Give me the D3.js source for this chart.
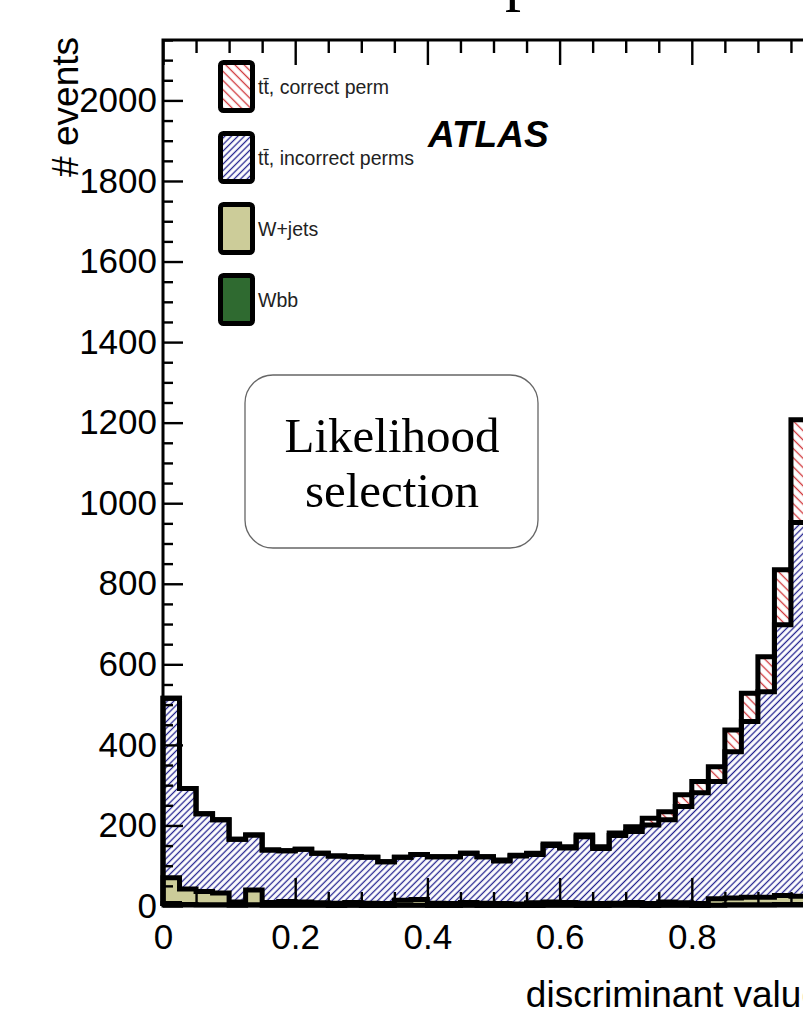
<!DOCTYPE html>
<html>
<head>
<meta charset="utf-8">
<script src="https://cdn.jsdelivr.net/npm/d3@7"></script>
<style>
  body { margin: 0; background: #fff; }
  svg { display: block; }
</style>
</head>
<body>
<script>
// 0.025 wide bins of the discriminant, only the ones visible in the picture
var binWidth = 0.025;
var ttCorrect   = [0, 0, 0, 0, 0, 0, 0, 0, 0, 0, 0, 0, 0, 0, 0, 0, 0, 0, 0, 0, 2, 2, 3, 4, 3, 4, 4, 6, 12, 17, 20, 29, 28, 37, 54, 70, 87, 137, 255];
var ttIncorrect = [446, 250, 193, 182, 156, 136, 130, 126, 131, 123, 117, 113, 114, 104, 107, 112, 115, 116, 122, 115, 106, 119, 120, 140, 135, 165, 137, 168, 176, 195, 204, 239, 275, 291, 363, 436, 510, 672, 928];
var wJets       = [64, 38, 33, 29, 8, 37, 7, 9, 8, 6, 6, 7, 6, 5, 12, 14, 6, 5, 7, 6, 5, 4, 7, 8, 7, 6, 5, 5, 7, 5, 8, 6, 5, 16, 17, 19, 19, 22, 20];
var wbb         = [6, 4, 3, 3, 2, 3, 2, 2, 2, 2, 1, 2, 1, 1, 2, 2, 1, 1, 2, 1, 1, 1, 1, 2, 2, 1, 1, 2, 2, 1, 2, 2, 1, 2, 3, 3, 3, 4, 4];

var legendLabels = ["t\u0074\u0304, correct perm", "t\u0074\u0304, incorrect perms", "W+jets", "Wbb"];
var yMajorTicks = [0, 200, 400, 600, 800, 1000, 1200, 1400, 1600, 1800, 2000];
var xMajorTicks = [0, 0.2, 0.4, 0.6, 0.8, 1.0];
var xTickLabels = [0, 0.2, 0.4, 0.6, 0.8];

var width = 803, height = 1015;
var frame = {left: 163, right: 824, top: 40, bottom: 906};

var svg = d3.select("body")
  .append("svg")
    .attr("width", width)
    .attr("height", height);

var defs = svg.append("defs");

// ROOT style hatches: white under thin diagonal lines
function hatch(id, color, spacing, angle) {
  var p = defs.append("pattern")
    .attr("id", id)
    .attr("patternUnits", "userSpaceOnUse")
    .attr("width", spacing)
    .attr("height", spacing)
    .attr("patternTransform", "rotate(" + angle + ")");
  p.append("rect").attr("width", spacing).attr("height", spacing).attr("fill", "#fff");
  p.append("line")
    .attr("x1", spacing / 2).attr("y1", -1)
    .attr("x2", spacing / 2).attr("y2", spacing + 1)
    .attr("stroke", color)
    .attr("stroke-width", 1.3);
}
hatch("hatchRed", "#d0363a", 6.5, -45);
hatch("hatchBlue", "#23238f", 4.6, 45);

var x = d3.scaleLinear().domain([0, 1]).range([frame.left, frame.right]);
var y = d3.scaleLinear().domain([0, 2150]).range([frame.bottom, frame.top]);

// one row per bin, plus a closing row at the right edge for the steps
var rows = ttCorrect.map(function(d, i) {
  return {lo: i * binWidth, wbb: wbb[i], wjets: wJets[i], incorrect: ttIncorrect[i], correct: ttCorrect[i]};
});
var last = rows[rows.length - 1];
rows.push({lo: rows.length * binWidth, wbb: last.wbb, wjets: last.wjets, incorrect: last.incorrect, correct: last.correct});

var keys = ["wbb", "wjets", "incorrect", "correct"];
var fills = {wbb: "#2f6a30", wjets: "#cccc99", incorrect: "url(#hatchBlue)", correct: "url(#hatchRed)"};
var layers = d3.stack().keys(keys)(rows);

var area = d3.area()
  .curve(d3.curveStepAfter)
  .x(function(d) { return x(d.data.lo); })
  .y0(function(d) { return y(d[0]); })
  .y1(function(d) { return y(d[1]); });

var plot = svg.append("g");

plot.selectAll("path.band")
  .data(layers)
  .enter()
  .append("path")
    .attr("class", "band")
    .attr("d", area)
    .attr("fill", function(d) { return fills[d.key]; });

// thick black outline of every stacked histogram
var outline = d3.line()
  .curve(d3.curveStepAfter)
  .x(function(d) { return x(d.data.lo); })
  .y(function(d) { return y(d[1]); });

plot.selectAll("path.outline")
  .data(layers)
  .enter()
  .append("path")
    .attr("class", "outline")
    .attr("d", function(d) {
      return "M" + x(0) + "," + y(0) + "L" + outline(d).slice(1);
    })
    .attr("fill", "none")
    .attr("stroke", "#000")
    .attr("stroke-width", 5)
    .attr("stroke-linejoin", "miter");

// axes, ticks pointing into the frame
function styleAxis(g) {
  g.select(".domain").remove();
  g.selectAll(".tick line").attr("stroke", "#000").attr("stroke-width", 2.4);
  g.selectAll(".tick text")
    .attr("fill", "#000")
    .style("font-family", "'Liberation Sans', Arial, sans-serif")
    .style("font-size", "35px");
}

var yMinor = d3.range(0, 2151, 50).filter(function(v) { return v % 200 !== 0; });
var xMinor = d3.range(0, 21).map(function(i) { return i * 0.05; }).filter(function(v) { return Math.abs(v * 5 - Math.round(v * 5)) > 1e-6; });

svg.append("g")
  .attr("transform", "translate(" + frame.left + ",0)")
  .call(d3.axisLeft(y).tickValues(yMinor).tickSize(-10).tickFormat(""))
  .call(styleAxis);

svg.append("g")
  .attr("transform", "translate(" + frame.left + ",0)")
  .call(d3.axisLeft(y).tickValues(yMajorTicks).tickSize(-20).tickPadding(6).tickFormat(d3.format("d")))
  .call(styleAxis);

svg.append("g")
  .attr("transform", "translate(0," + frame.bottom + ")")
  .call(d3.axisBottom(x).tickValues(xMinor).tickSize(-14).tickFormat(""))
  .call(styleAxis);

svg.append("g")
  .attr("transform", "translate(0," + frame.bottom + ")")
  .call(d3.axisBottom(x).tickValues(xMajorTicks).tickSize(-28).tickFormat(""))
  .call(styleAxis);

svg.append("g")
  .attr("transform", "translate(0," + frame.bottom + ")")
  .call(d3.axisBottom(x).tickValues(xTickLabels).tickSize(0).tickPadding(18).tickFormat(function(d) { return d === 0 ? "0" : d3.format(".1f")(d); }))
  .call(styleAxis);

svg.append("g")
  .attr("transform", "translate(0," + frame.top + ")")
  .call(d3.axisTop(x).tickValues(xMinor).tickSize(-13).tickFormat(""))
  .call(styleAxis);

svg.append("g")
  .attr("transform", "translate(0," + frame.top + ")")
  .call(d3.axisTop(x).tickValues(xMajorTicks).tickSize(-25).tickFormat(""))
  .call(styleAxis);

// frame
svg.append("rect")
  .attr("x", frame.left)
  .attr("y", frame.top)
  .attr("width", frame.right - frame.left)
  .attr("height", frame.bottom - frame.top)
  .attr("fill", "none")
  .attr("stroke", "#000")
  .attr("stroke-width", 3);

// axis titles
svg.append("text")
  .attr("transform", "translate(78,37) rotate(-90)")
  .attr("text-anchor", "end")
  .style("font-family", "'Liberation Sans', Arial, sans-serif")
  .style("font-size", "37px")
  .text("# events");

svg.append("text")
  .attr("x", 822)
  .attr("y", 1007)
  .attr("text-anchor", "end")
  .style("font-family", "'Liberation Sans', Arial, sans-serif")
  .style("font-size", "37px")
  .text("discriminant value");

// legend
var legend = svg.append("g");
var legendFills = [fills.correct, fills.incorrect, fills.wjets, fills.wbb];
legendLabels.forEach(function(label, i) {
  legend.append("rect")
    .attr("x", 220.5)
    .attr("y", 62.5 + i * 71)
    .attr("width", 32)
    .attr("height", 48)
    .attr("rx", 3)
    .attr("fill", legendFills[i])
    .attr("stroke", "#000")
    .attr("stroke-width", 5);
  legend.append("text")
    .attr("x", 258)
    .attr("y", 94 + i * 71)
    .style("font-family", "'Liberation Sans', Arial, sans-serif")
    .style("font-size", "19.5px")
    .attr("fill", "#222")
    .text(label);
});

svg.append("text")
  .attr("x", 428)
  .attr("y", 147)
  .style("font-family", "'Liberation Sans', Arial, sans-serif")
  .style("font-size", "37px")
  .style("font-weight", "bold")
  .style("font-style", "italic")
  .text("ATLAS");

// annotation box
svg.append("rect")
  .attr("x", 245)
  .attr("y", 375)
  .attr("width", 293)
  .attr("height", 173)
  .attr("rx", 28)
  .attr("fill", "#fff")
  .attr("stroke", "#666")
  .attr("stroke-width", 1.3);

svg.append("text")
  .attr("x", 392)
  .attr("y", 452)
  .attr("text-anchor", "middle")
  .style("font-family", "'Liberation Serif', serif")
  .style("font-size", "49px")
  .text("Likelihood");

svg.append("text")
  .attr("x", 392)
  .attr("y", 507)
  .attr("text-anchor", "middle")
  .style("font-family", "'Liberation Serif', serif")
  .style("font-size", "49px")
  .text("selection");

// page title, mostly above the visible area
svg.append("text")
  .attr("x", 505)
  .attr("y", -2)
  .style("font-family", "'Liberation Serif', serif")
  .style("font-size", "64px")
  .text("p");
</script>
</body>
</html>
